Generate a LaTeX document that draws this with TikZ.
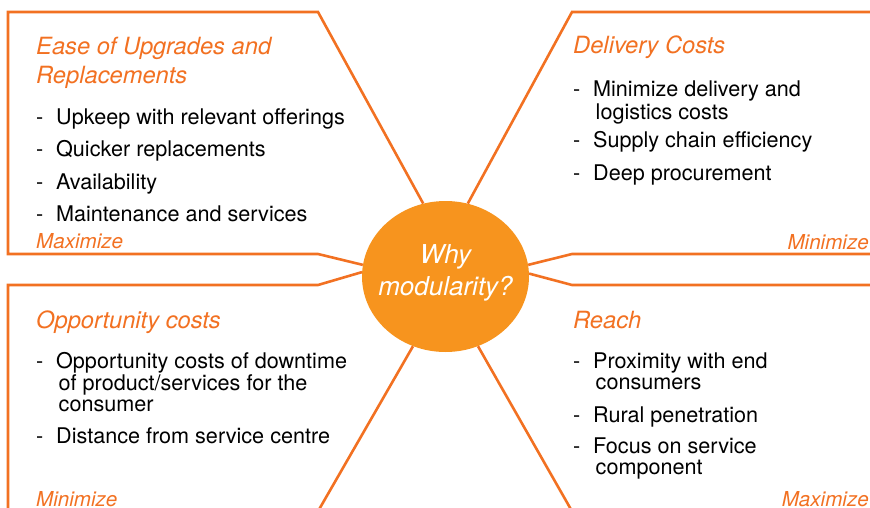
\documentclass[tikz,border=0pt]{standalone}
\usepackage{fontspec}
\setmainfont{TeX Gyre Heros}
\usetikzlibrary{shapes.geometric}
\definecolor{lineOrange}{RGB}{242,113,34}
\definecolor{hubOrange}{RGB}{247,148,30}
\tikzset{
  edge/.style={draw=lineOrange,line width=2.6pt,line join=miter},
  hub/.style={ellipse,fill=hubOrange,minimum width=167pt,minimum height=151pt,inner sep=0pt},
  hubText/.style={anchor=base,inner sep=0pt,text=white,align=center,
    font=\fontsize{26}{32}\selectfont\itshape},
  heading/.style={anchor=base west,inner sep=0pt,text=lineOrange,
    font=\fontsize{23.7}{29}\selectfont\itshape},
  goal/.style={inner sep=0pt,text=lineOrange,font=\fontsize{20.6}{24}\selectfont\itshape},
  item/.style={anchor=base west,inner sep=0pt,font=\fontsize{21.6}{21.5}\selectfont}
}
\begin{document}
\begin{tikzpicture}[x=1pt,y=-1pt]%
  \def\nextLine{\\\hspace*{22.5pt}}
% define itemText (#name, #x, #baseline y of first line, #text)
  \def\itemText(#1,#2,#3,#4){\node[item] (#1) at (#2,#3)
    {\begin{tabular}[t]{@{}l@{}}\makebox[20pt][l]{-}#4\end{tabular}};}

  \useasboundingbox (0,0) rectangle (870,508);
  \clip (0,0) rectangle (870,508);

  \node[hub] (hub) at (445.5,276.5) {};
  \node[hubText] (why) at (445.5,295) {Why\\modularity?};

  % upper left panel
  \coordinate (ulA) at (318,12);
  \coordinate (ulB) at (8,12);
  \coordinate (ulC) at (8,254);
  \coordinate (ulD) at (318,254);
  \draw[edge] (hub.107) -- (ulA) -- (ulB) -- (ulC) -- (ulD) -- (hub.172);

  % upper right panel
  \coordinate (urA) at (572,12);
  \coordinate (urB) at (880,12);
  \coordinate (urC) at (880,254);
  \coordinate (urD) at (572,254);
  \draw[edge] (hub.73) -- (urA) -- (urB);
  \draw[edge] (urC) -- (urD) -- (hub.8);

  % lower left panel
  \coordinate (llA) at (318,285);
  \coordinate (llB) at (8,285);
  \coordinate (llC) at (8,520);
  \coordinate (llD) at (313,520);
  \draw[edge] (hub.177) -- (llA) -- (llB) -- (llC);
  \draw[edge] (hub.245) -- (llD);

  % lower right panel
  \coordinate (lrA) at (572,285);
  \coordinate (lrB) at (880,285);
  \coordinate (lrD) at (577,520);
  \draw[edge] (hub.2) -- (lrA) -- (lrB);
  \draw[edge] (hub.295) -- (lrD);

  \node[heading] (ulHead) at (36,55)
    {\begin{tabular}[t]{@{}l@{}}Ease of Upgrades and\\Replacements\end{tabular}};
  \itemText(ul1,36,125,Upkeep with relevant offerings)
  \itemText(ul2,36,157,Quicker replacements)
  \itemText(ul3,36,189,Availability)
  \itemText(ul4,36,221,Maintenance and services)
  \node[goal,anchor=base west] (ulGoal) at (36,248) {Maximize};

  \node[heading] (urHead) at (573,54) {Delivery Costs};
  \itemText(ur1,573,97,Minimize delivery and\nextLine logistics costs)
  \itemText(ur2,573,148,Supply chain efficiency)
  \itemText(ur3,573,180,Deep procurement)
  \node[goal,anchor=base east] (urGoal) at (869,249) {Minimize};

  \node[heading] (llHead) at (36,328) {Opportunity costs};
  \itemText(ll1,36,368,Opportunity costs of downtime\nextLine of product/services for the\nextLine consumer)
  \itemText(ll2,36,443,Distance from service centre)
  \node[goal,anchor=base west] (llGoal) at (36,506) {Minimize};

  \node[heading] (lrHead) at (573,328) {Reach};
  \itemText(lr1,573,368,Proximity with end\nextLine consumers)
  \itemText(lr2,573,422,Rural penetration)
  \itemText(lr3,573,453,Focus on service\nextLine component)
  \node[goal,anchor=base east] (lrGoal) at (869,506) {Maximize};
\end{tikzpicture}
\end{document}
